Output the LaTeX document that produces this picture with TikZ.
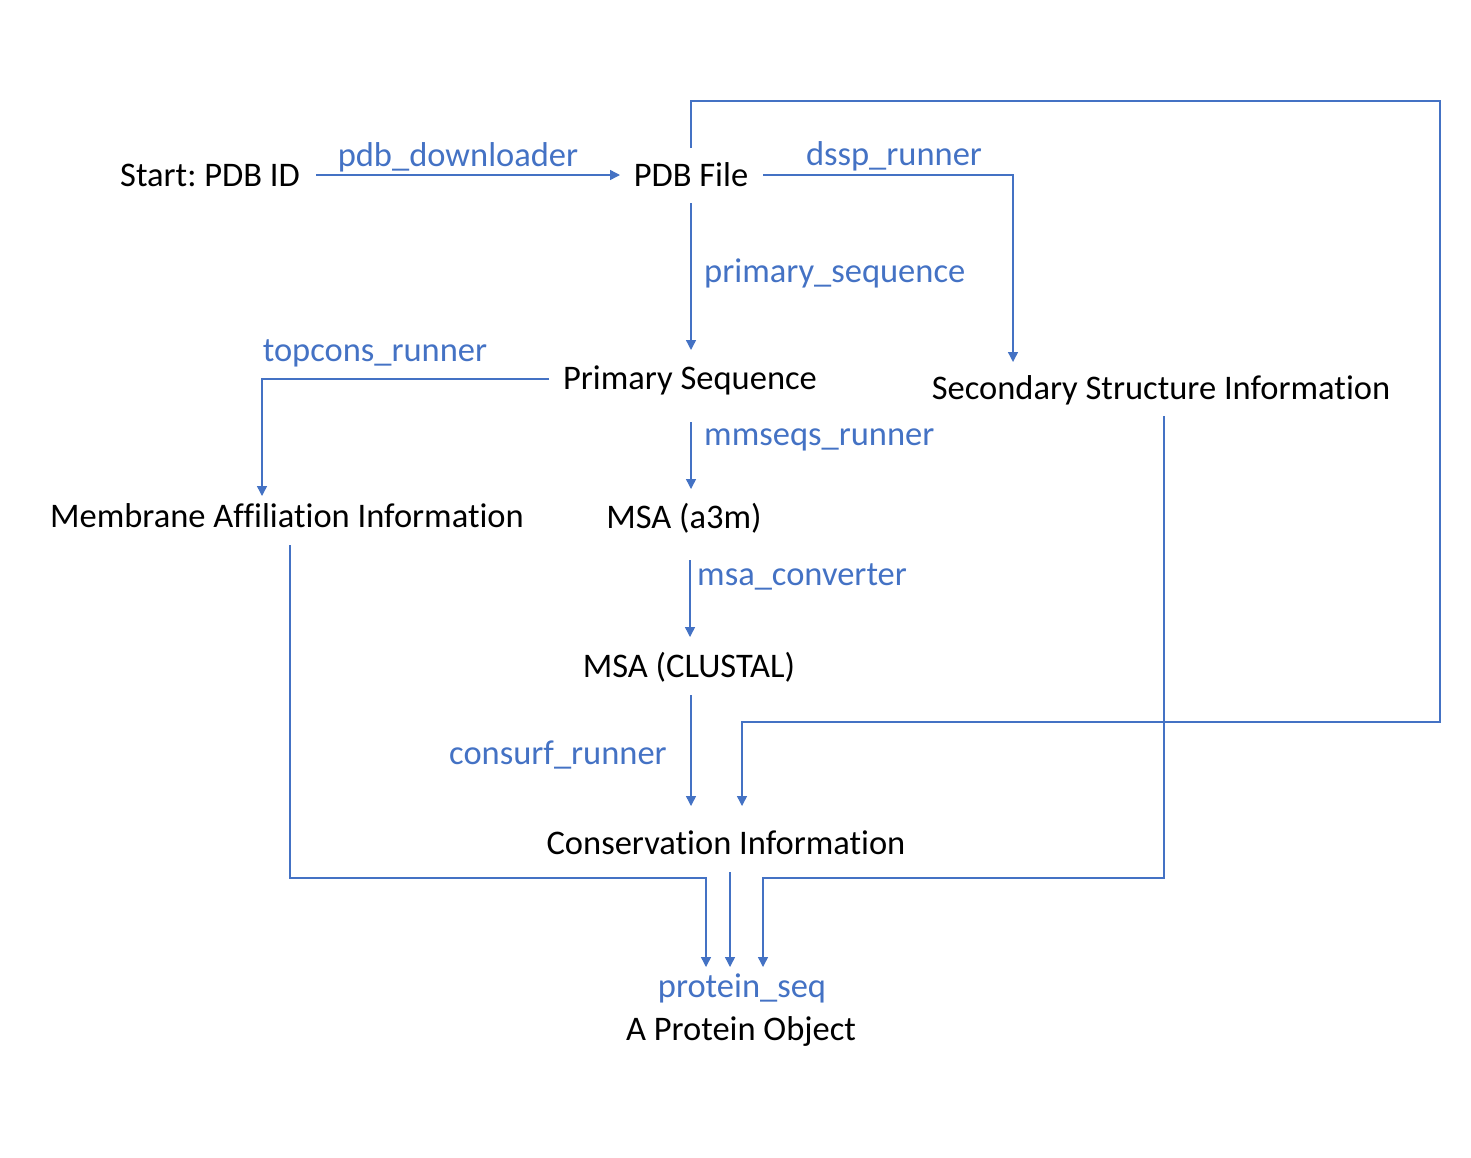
\documentclass[tikz,border=0pt]{standalone}
\usepackage{fontspec}
\setmainfont[Ligatures=NoCommon]{Carlito}
\usetikzlibrary{arrows.meta}
\definecolor{lblue}{HTML}{4472C4}
\frenchspacing
\begin{document}
\begin{tikzpicture}[x=1pt,y=-1pt,
  txt/.style={font=\fontsize{34.5}{40}\selectfont, inner sep=0pt, text height=22pt, text depth=0pt},
  lbl/.style={txt, text=lblue},
  conn/.style={draw=lblue, line width=1.4pt, -{Triangle[length=10pt,width=10pt]}},
  wire/.style={draw=lblue, line width=1.4pt}]
\useasboundingbox (0,0) rectangle (1471,1157);
% main nodes
\node[txt] (start) at (210,175) {Start: PDB ID};
\node[txt] (pdb) at (691,175) {PDB File};
\node[txt] (prim) at (690,378) {Primary Sequence};
\node[txt] (sec) at (1161,388) {Secondary Structure Information};
\node[txt] (mem) at (287,516) {Membrane Affiliation Information};
\node[txt] (a3m) at (684,517) {MSA (a3m)};
\node[txt] (clu) at (689,666) {MSA (CLUSTAL)};
\node[txt] (cons) at (726,843) {Conservation Information};
\node[txt] (obj) at (741,1029) {A Protein Object};
% labels
\node[lbl] (l1) at (458,155) {pdb\_downloader};
\node[lbl] (l2) at (894,154) {dssp\_runner};
\node[lbl, anchor=west] (l3) at (704,271) {primary\_sequence};
\node[lbl] (l4) at (375,350) {topcons\_runner};
\node[lbl, anchor=west] (l5) at (704,434) {mmseqs\_runner};
\node[lbl, anchor=west] (l6) at (697,574) {msa\_converter};
\node[lbl, anchor=east] (l7) at (667,753) {consurf\_runner};
\node[lbl] (l8) at (742,986) {protein\_seq};
% named bend points
\coordinate (fbA) at (691,101);
\coordinate (fbB) at (1440,101);
\coordinate (fbC) at (1440,722);
\coordinate (fbD) at (742,722);
\coordinate (fbE) at (742,806);
\coordinate (dsA) at (1013,175);
\coordinate (dsB) at (1013,362);
\coordinate (tcA) at (262,379);
\coordinate (tcB) at (262,496);
\coordinate (mbA) at (290,878);
\coordinate (mbB) at (706,878);
\coordinate (mbC) at (706,967);
\coordinate (ssA) at (1164,878);
\coordinate (ssB) at (763,878);
\coordinate (ssC) at (763,967);
% connectors
\draw[conn] (316,175) coordinate (pdA) -- (620,175) coordinate (pdB);
\draw[conn] (763,175) coordinate (dsS) -- (dsA) -- (dsB);
\draw[conn] (pdb.north |- 0,148) -- (fbA) -- (fbB) -- (fbC) -- (fbD) -- (fbE);
\draw[conn] (pdb.south |- 0,203) -- (pdb.south |- 0,350);
\draw[conn] (549,379) coordinate (tcS) -- (tcA) -- (tcB);
\draw[conn] (pdb.south |- 0,422) -- (pdb.south |- 0,489);
\draw[conn] (690,560) coordinate (mcA) -- (690,637) coordinate (mcB);
\draw[conn] (pdb.south |- 0,695) -- (pdb.south |- 0,806);
\draw[conn] (290,545) coordinate (mbS) -- (mbA) -- (mbB) -- (mbC);
\draw[conn] (730,872) coordinate (csA) -- (730,967) coordinate (csB);
\draw[conn] (1164,416) coordinate (ssS) -- (ssA) -- (ssB) -- (ssC);
\end{tikzpicture}
\end{document}
